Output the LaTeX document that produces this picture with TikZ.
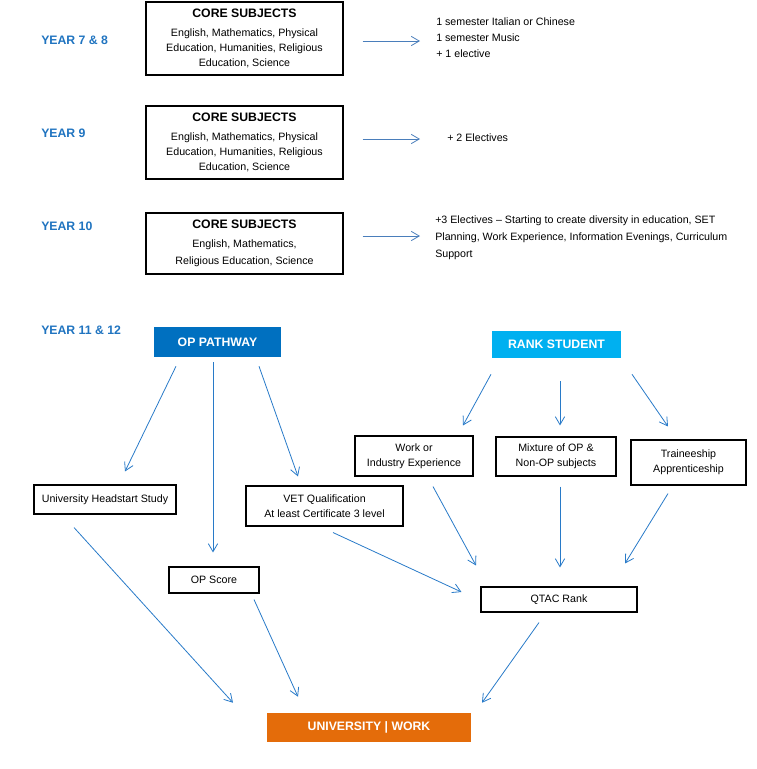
\documentclass[tikz,border=0pt]{standalone}
\usepackage{fontspec}
\setmainfont{Liberation Sans}
\usetikzlibrary{arrows.meta,calc}
\definecolor{yearblue}{RGB}{32,116,192}
\definecolor{opblue}{RGB}{0,112,192}
\definecolor{rankcyan}{RGB}{0,176,240}
\definecolor{uniorange}{RGB}{228,108,10}
\definecolor{arrowtop}{RGB}{74,126,187}
\definecolor{arrowlow}{RGB}{40,122,200}
\begin{document}
\begin{tikzpicture}[x=0.75pt,y=-0.75pt,
  every node/.style={font=\fontsize{8}{11.25}\selectfont, inner sep=0pt},
  corebox/.style={draw=black, line width=0.8pt, minimum width=197*0.75pt, align=center},
  plainbox/.style={draw=black, line width=0.8pt, align=center},
  yearlbl/.style={anchor=west, text=yearblue, font=\fontsize{9.2}{11}\selectfont\bfseries},
  sidetext/.style={anchor=west, align=left},
  titlefill/.style={minimum height=29*0.75pt, text=white, font=\fontsize{9.2}{11}\selectfont\bfseries},
  conntop/.style={draw=arrowtop, line width=0.6pt, -{Straight Barb[length=6pt,width=7pt]}},
  conn/.style={draw=arrowlow, line width=0.6pt, -{Straight Barb[length=6pt,width=7pt]}}
]
\useasboundingbox (0,0) rectangle (757,769);
\newcommand{\coretitle}{{\fontsize{9.2}{11}\selectfont\bfseries CORE SUBJECTS}}

% Years 7-10
\node[corebox, minimum height=73*0.75pt] (core1) at (244.5,38.5)
  {\coretitle\\[3pt] English, Mathematics, Physical\\ Education, Humanities, Religious\\ Education, Science};
\node[corebox, minimum height=73*0.75pt] (core2) at (244.5,142.5)
  {\coretitle\\[3pt] English, Mathematics, Physical\\ Education, Humanities, Religious\\ Education, Science};
\node[corebox, minimum height=61*0.75pt] (core3) at (244.5,243.5)
  {\coretitle\\[3pt] English, Mathematics,\\[1.5pt] Religious Education, Science};

\node[yearlbl] (y78) at (41,40) {YEAR 7 \& 8};
\node[yearlbl] (y9) at (41,133) {YEAR 9};
\node[yearlbl] (y10) at (41,226) {YEAR 10};
\node[yearlbl] (y1112) at (41,330) {YEAR 11 \& 12};

\node[sidetext, font=\fontsize{8}{12}\selectfont] (t1) at (436,38)
  {1 semester Italian or Chinese\\ 1 semester Music\\ + 1 elective};
\node[sidetext] (t2) at (447,138) {+ 2 Electives};
\node[sidetext, font=\fontsize{8}{12.75}\selectfont] (t3) at (435,238)
  {+3 Electives -- Starting to create diversity in education, SET\\ Planning, Work Experience, Information Evenings, Curriculum\\ Support};

\draw[conntop] ($(core1.east)+(19,2.5)$) -- ($(t1.west)+(-16,3)$);
\draw[conntop] ($(core2.east)+(19,-3.5)$) -- ($(t2.west)+(-27,1)$);
\draw[conntop] ($(core3.east)+(19,-7.5)$) -- ($(t3.west)+(-15,-2)$);

% Years 11 & 12
\node[titlefill, fill=opblue, minimum width=127*0.75pt, minimum height=30*0.75pt] (op) at (217.5,342) {OP PATHWAY};
\node[titlefill, fill=rankcyan, minimum width=129*0.75pt, minimum height=27*0.75pt] (rank) at (556.5,344.5) {RANK STUDENT};

\node[plainbox, minimum width=142*0.75pt, minimum height=29*0.75pt] (head) at (105,499.5) {University Headstart Study};
\node[plainbox, minimum width=157*0.75pt, minimum height=40*0.75pt] (vet) at (324.5,506) {VET Qualification\\ At least Certificate 3 level};
\node[plainbox, minimum width=90*0.75pt, minimum height=26*0.75pt] (opscore) at (214,580) {OP Score};
\node[plainbox, minimum width=118*0.75pt, minimum height=40*0.75pt] (work) at (414,456) {Work or\\ Industry Experience};
\node[plainbox, minimum width=120*0.75pt, minimum height=39*0.75pt] (mix) at (556,456.5) {Mixture of OP \&\\ Non-OP subjects};
\node[plainbox, minimum width=115*0.75pt, minimum height=45*0.75pt] (train) at (688.5,462.5) {Traineeship\\ Apprenticeship};
\node[plainbox, minimum width=156*0.75pt, minimum height=25*0.75pt] (qtac) at (559,599.5) {QTAC Rank};
\node[titlefill, fill=uniorange, minimum width=204*0.75pt, minimum height=29*0.75pt] (uni) at (369,727.5) {UNIVERSITY | WORK};

\draw[conn] ($(op.south)+(-41.5,9)$) -- ($(head.north)+(20,-13)$);
\draw[conn] ($(op.south)+(-4.5,5)$) -- ($(opscore.north)+(-1,-14)$);
\draw[conn] ($(op.south)+(41.5,9)$) -- ($(vet.north)+(-26.5,-9)$);
\draw[conn] ($(rank.south)+(-65.5,16)$) -- ($(work.north)+(49,-10)$);
\draw[conn] ($(rank.south)+(3.5,23)$) -- ($(mix.north)+(4,-11)$);
\draw[conn] ($(rank.south)+(75.5,16)$) -- ($(train.north)+(-20.5,-13)$);
\draw[conn] ($(work.south)+(19,10)$) -- ($(qtac.north)+(-83,-21)$);
\draw[conn] ($(mix.south)+(4,10)$) -- ($(qtac.north)+(1,-19)$);
\draw[conn] ($(train.south)+(-20.5,8)$) -- ($(qtac.north)+(66,-23)$);
\draw[conn] ($(vet.south)+(8.5,6)$) -- ($(qtac.west)+(-19,-7.5)$);
\draw[conn] ($(head.south)+(-31,13)$) -- ($(uni.north)+(-136,-10)$);
\draw[conn] ($(opscore.south)+(40,6)$) -- ($(uni.north)+(-71,-16)$);
\draw[conn] ($(qtac.south)+(-20,10)$) -- ($(uni.north)+(113,-10)$);
\end{tikzpicture}
\end{document}
